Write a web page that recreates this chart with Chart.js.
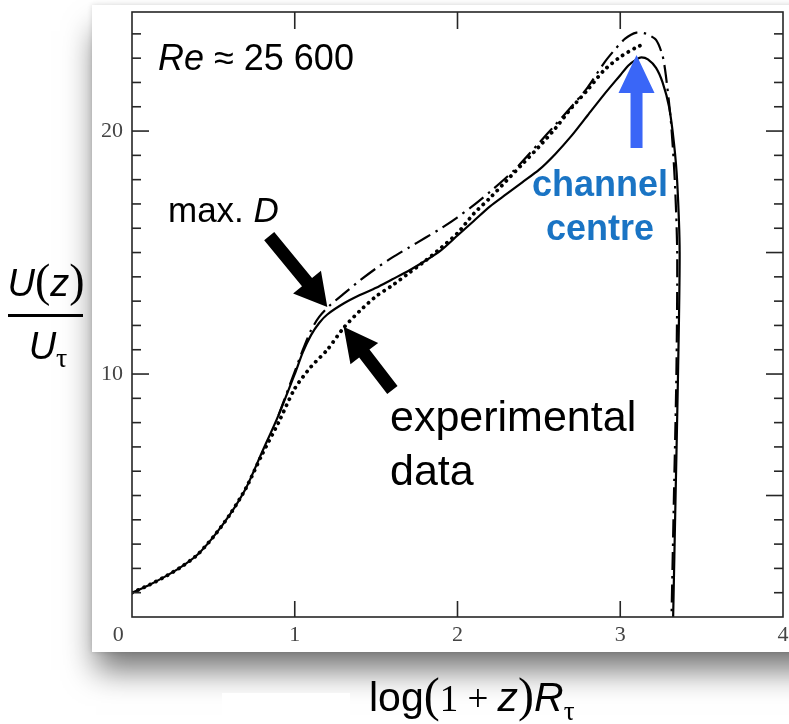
<!DOCTYPE html>
<html>
<head>
<meta charset="utf-8">
<script src="https://cdn.jsdelivr.net/npm/chart.js@4.4.1/dist/chart.umd.min.js"></script>
<style>
  html, body { margin:0; padding:0; width:789px; height:724px; overflow:hidden; background:#fff; }
  #panel { position:absolute; left:92px; top:5px; width:760px; height:647px; background:#fff;
           box-shadow: 0 22px 30px -4px rgba(0,0,0,0.55), 0 0 5px rgba(0,0,0,0.14); z-index:0; }
  #c { position:absolute; left:0; top:0; z-index:1; }
  #wbox { position:absolute; left:222px; top:693px; width:128px; height:31px; background:#fff; z-index:2; }
  .t { position:absolute; z-index:3; font-family:"Liberation Sans", Arial, sans-serif; color:#000; white-space:nowrap; }
  .serif { font-family:"Liberation Serif", "Times New Roman", serif; }
  .z0 { line-height:0; }
</style>
</head>
<body>
<div id="panel"></div>
<canvas id="c" width="789" height="724"></canvas>
<div id="wbox"></div>

<div class="t" style="left:158px; top:40px; font-size:36px; line-height:36px;"><i>Re</i> ≈ 25 600</div>
<div class="t" style="left:168px; top:192px; font-size:35px; line-height:35px;">max. <i>D</i></div>
<div class="t" style="left:390px; top:389px; font-size:43px; line-height:54px;">experimental<br>data</div>
<div class="t" style="left:500px; top:162px; width:200px; text-align:center; font-size:36px; line-height:44px; font-weight:bold; color:#1a74c4;">channel<br>centre</div>

<div class="t" style="left:6px; top:264px; width:80px; text-align:center; font-size:38px; line-height:38px;"><i>U</i><span class="serif z0" style="font-size:46px;">(</span><i>z</i><span class="serif z0" style="font-size:46px;">)</span></div>
<div class="t" style="left:8px; top:314px; width:75px; height:2.5px; background:#000;"></div>
<div class="t" style="left:8px; top:327px; width:80px; text-align:center; font-size:38px; line-height:38px;"><i>U</i><span class="serif z0" style="font-size:28px; position:relative; top:8px;">τ</span></div>

<div class="t" style="left:369px; top:677px; font-size:41px; line-height:41px;">log<span class="serif z0" style="font-size:48px;">(</span><span class="serif z0" style="font-size:37px;">1 + </span><i>z</i><span class="serif z0" style="font-size:48px;">)</span><i>R</i><span class="serif z0" style="font-size:27px; position:relative; top:9px;">τ</span></div>

<script>
// ---------------- data ----------------
const solidX = [0, 0.1, 0.2, 0.3, 0.4, 0.5, 0.6, 0.7, 0.8, 0.9, 1.0, 1.05, 1.1, 1.15, 1.2, 1.3, 1.4, 1.5, 1.6, 1.7, 1.8, 1.9, 2.0, 2.1, 2.2, 2.3, 2.4, 2.5, 2.6, 2.7, 2.8, 2.9, 3.0, 3.05, 3.1, 3.13, 3.17, 3.22, 3.26, 3.3, 3.33, 3.35, 3.365, 3.355, 3.34, 3.325];
const solidY = [1.0, 1.3, 1.65, 2.05, 2.55, 3.3, 4.2, 5.3, 6.8, 8.3, 10.0, 10.9, 11.6, 12.1, 12.45, 12.9, 13.25, 13.55, 13.9, 14.25, 14.65, 15.1, 15.7, 16.3, 16.9, 17.4, 17.9, 18.4, 19.05, 19.8, 20.65, 21.5, 22.3, 22.7, 22.95, 23.03, 22.95, 22.6, 22.0, 21.0, 19.5, 17.9, 15.0, 10.0, 5.0, 0];

const expX = [0, 0.1, 0.2, 0.3, 0.4, 0.5, 0.6, 0.7, 0.8, 0.9, 1.0, 1.1, 1.2, 1.3, 1.4, 1.5, 1.6, 1.7, 1.8, 1.9, 2.0, 2.1, 2.2, 2.3, 2.4, 2.5, 2.6, 2.7, 2.8, 2.9, 3.0, 3.1, 3.15];
const expY = [1.0, 1.3, 1.65, 2.05, 2.55, 3.3, 4.2, 5.3, 6.7, 8.0, 9.4, 10.3, 11.0, 11.9, 12.6, 13.2, 13.65, 14.15, 14.65, 15.2, 15.8, 16.6, 17.25, 17.95, 18.65, 19.35, 20.1, 20.95, 21.7, 22.5, 23.05, 23.45, 23.6];

const dashX = [0.9, 1.0, 1.05, 1.1, 1.15, 1.22, 1.3, 1.4, 1.5, 1.6, 1.7, 1.8, 1.9, 2.0, 2.1, 2.2, 2.35, 2.5, 2.6, 2.7, 2.8, 2.9, 2.96, 3.03, 3.1, 3.16, 3.22, 3.26, 3.28, 3.31, 3.335, 3.35, 3.345, 3.33, 3.315];
const dashY = [8.3, 10.1, 11.0, 11.8, 12.35, 12.85, 13.3, 13.85, 14.35, 14.8, 15.2, 15.6, 16.0, 16.45, 16.95, 17.5, 18.4, 19.5, 20.25, 21.0, 21.8, 22.8, 23.3, 23.8, 24.05, 24.0, 23.75, 23.1, 22.3, 20.5, 18.0, 15.0, 10.0, 5.0, 0];

const xTickLabels = [0, 1, 2, 3, 4];
const yTickLabels = [10, 20];
const xMajorTicks = [1, 2, 3];
const yMinorTicks = [1,2,3,4,5,6,7,8,9,10,11,12,13,14,15,16,17,18,19,20,21,22,23,24];
const yLeftMajor = [10, 20];
const yRightMajor = [5, 10, 15, 20];

// annotation arrows (data coordinates): [tailX, tailY, tipX, tipY]
const arrowMaxD = [0.843, 15.68, 1.20, 12.76];
const arrowExp = [1.60, 9.34, 1.30, 11.95];
const arrowCentre = [3.10, 19.3, 3.10, 23.13];

const pts = (xs, ys) => xs.map((v, i) => ({x: v, y: ys[i]}));

function drawArrow(ctx, x0, y0, x1, y1, shaftW, headL, headW, color) {
  const dx = x1 - x0, dy = y1 - y0, len = Math.hypot(dx, dy);
  const ux = dx / len, uy = dy / len, nx = -uy, ny = ux;
  const bx = x1 - ux * headL, by = y1 - uy * headL;
  ctx.beginPath();
  ctx.moveTo(x0 + nx * shaftW / 2, y0 + ny * shaftW / 2);
  ctx.lineTo(bx + nx * shaftW / 2, by + ny * shaftW / 2);
  ctx.lineTo(bx + nx * headW / 2, by + ny * headW / 2);
  ctx.lineTo(x1, y1);
  ctx.lineTo(bx - nx * headW / 2, by - ny * headW / 2);
  ctx.lineTo(bx - nx * shaftW / 2, by - ny * shaftW / 2);
  ctx.lineTo(x0 - nx * shaftW / 2, y0 - ny * shaftW / 2);
  ctx.closePath();
  ctx.fillStyle = color;
  ctx.fill();
}

const decor = {
  id: 'decor',
  afterDatasetsDraw(chart) {
    const {ctx, chartArea: a, scales: {x, y}} = chart;
    ctx.save();
    ctx.strokeStyle = '#262626';
    ctx.lineWidth = 1.6;
    ctx.strokeRect(a.left, a.top, a.right - a.left, a.bottom - a.top);
    const seg = (x0, y0, x1, y1) => { ctx.beginPath(); ctx.moveTo(x0, y0); ctx.lineTo(x1, y1); ctx.stroke(); };
    xMajorTicks.forEach(v => {
      const px = x.getPixelForValue(v);
      seg(px, a.bottom, px, a.bottom - 16);
      seg(px, a.top, px, a.top + 17);
    });
    yMinorTicks.forEach(v => {
      const py = y.getPixelForValue(v);
      seg(a.left, py, a.left + (yLeftMajor.includes(v) ? 17 : 9), py);
      seg(a.right, py, a.right - (yRightMajor.includes(v) ? 17 : 9), py);
    });
    const P = (arr) => [x.getPixelForValue(arr[0]), y.getPixelForValue(arr[1]), x.getPixelForValue(arr[2]), y.getPixelForValue(arr[3])];
    drawArrow(ctx, ...P(arrowMaxD), 13, 32, 36, '#000');
    drawArrow(ctx, ...P(arrowExp), 13, 34, 35, '#000');
    drawArrow(ctx, ...P(arrowCentre), 12, 38, 36, '#3a66f7');
    ctx.restore();
  }
};

const tickFont = { family: '"Liberation Serif", "Times New Roman", serif', size: 22 };

new Chart(document.getElementById('c'), {
  type: 'scatter',
  data: {
    datasets: [
      { label: 'model', data: pts(solidX, solidY), showLine: true, borderColor: '#000', borderWidth: 2.2,
        pointRadius: 0, tension: 0.25, fill: false },
      { label: 'model 2', data: pts(dashX, dashY), showLine: true, borderColor: '#000', borderWidth: 2.2,
        borderDash: [18, 6, 2.5, 6], pointRadius: 0, tension: 0.25, fill: false },
      { label: 'experimental data', data: pts(expX, expY), showLine: true, borderColor: '#000', borderWidth: 3.8,
        borderDash: [0.1, 6.5], borderCapStyle: 'round', pointRadius: 0, tension: 0.25, fill: false }
    ]
  },
  options: {
    responsive: false,
    animation: false,
    layout: { padding: { left: 0, top: 12, right: 6, bottom: 77 } },
    plugins: { legend: { display: false }, tooltip: { enabled: false } },
    scales: {
      x: {
        type: 'linear', min: 0, max: 4, position: 'bottom',
        afterBuildTicks: s => { s.ticks = xTickLabels.map(v => ({value: v})); },
        afterFit: s => { s.height = 30; s.paddingLeft = 0; s.paddingRight = 0; },
        grid: { display: false, drawTicks: false }, border: { display: false },
        ticks: { padding: 5, color: '#444', font: tickFont,
                 maxRotation: 0, autoSkip: false,
                 callback: v => v === 0 ? '0     ' : String(v) }
      },
      y: {
        type: 'linear', min: 0, max: 24.9, position: 'left',
        afterBuildTicks: s => { s.ticks = yTickLabels.map(v => ({value: v})); },
        afterFit: s => { s.width = 132; s.paddingTop = 0; s.paddingBottom = 0; },
        grid: { display: false, drawTicks: false }, border: { display: false },
        ticks: { padding: 9, color: '#444', font: tickFont,
                 autoSkip: false, callback: v => String(v) }
      }
    }
  },
  plugins: [decor]
});
</script>
</body>
</html>
